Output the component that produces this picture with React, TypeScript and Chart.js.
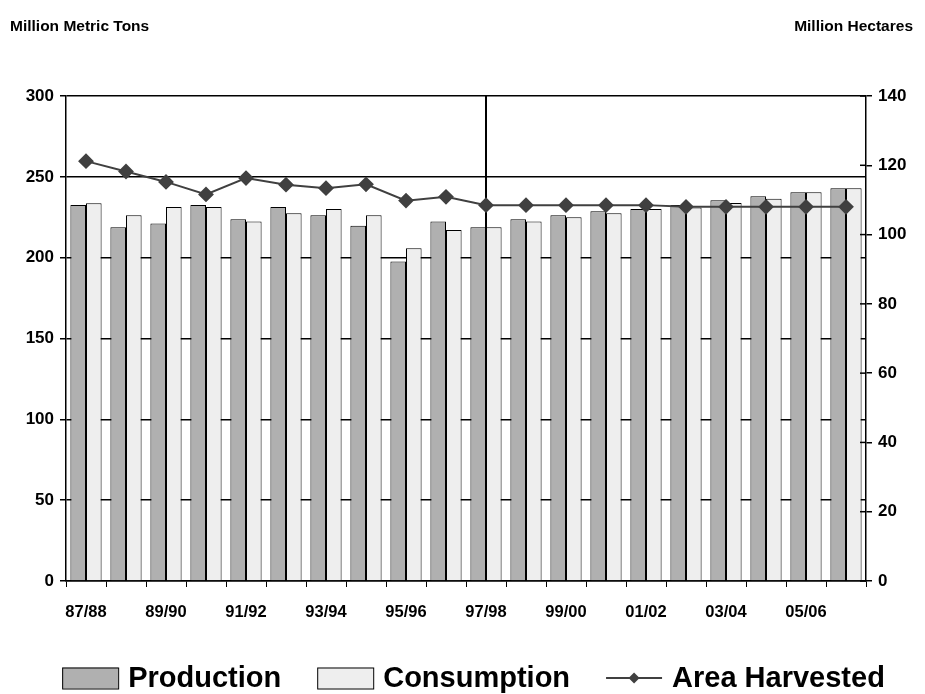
import React, { useEffect, useRef } from "react";
import { Chart, registerables } from "chart.js";

Chart.register(...registerables);

const categories = ["87/88","88/89","89/90","90/91","91/92","92/93","93/94","94/95","95/96","96/97","97/98","98/99","99/00","00/01","01/02","02/03","03/04","04/05","05/06","06/07"];
const production = [232.6,218.8,221.2,232.6,223.7,231.3,226.2,219.8,197.7,222.3,218.8,223.7,226.2,228.7,230.1,232.6,235.5,238,240.4,242.9];
const consumption = [233.6,226.2,231.3,231.3,222.3,227.4,230.1,226.2,205.8,217.1,218.8,222.3,225,227.4,230.1,231.1,233.8,236.5,240.4,242.9];
const areaHarvested = [121.2,118.2,115.2,111.6,116.3,114.4,113.4,114.5,109.8,110.9,108.5,108.5,108.5,108.5,108.5,108,108,108,108,108];
const leftTitle = "Million Metric Tons";
const rightTitle = "Million Hectares";
const markerCategory = "97/98";

const FONT = "'Liberation Sans', Arial, sans-serif";

const decorPlugin = {
  id: "decor",
  beforeDatasetsDraw(chart: any) {
    const { ctx, chartArea, scales } = chart;
    const x = scales.x.getPixelForValue(categories.indexOf(markerCategory));
    ctx.save();
    ctx.strokeStyle = "#000";
    ctx.lineWidth = 2;
    ctx.beginPath();
    ctx.moveTo(x, chartArea.top);
    ctx.lineTo(x, chartArea.bottom);
    ctx.stroke();
    ctx.restore();
  },
  afterDraw(chart: any) {
    const { ctx, chartArea, scales, width, height } = chart;
    ctx.save();
    ctx.strokeStyle = "#000";
    ctx.lineWidth = 1.5;
    scales.y1.ticks.forEach((t: any) => {
      const y = scales.y1.getPixelForValue(t.value);
      ctx.beginPath();
      ctx.moveTo(chartArea.right - 6, y);
      ctx.lineTo(chartArea.right, y);
      ctx.stroke();
    });
    ctx.fillStyle = "#000";
    ctx.font = `bold 15.5px ${FONT}`;
    ctx.textBaseline = "middle";
    ctx.textAlign = "left";
    ctx.fillText(leftTitle, 10, 27);
    ctx.textAlign = "right";
    ctx.fillText(rightTitle, width - 12, 27);

    const ds = chart.data.datasets;
    const items = [ds[1], ds[2], ds[0]];
    ctx.font = `bold 29px ${FONT}`;
    const boxW = 56, boxH = 21, gapIn = 10, gapOut = 36;
    const widths = items.map((d: any) => boxW + gapIn + ctx.measureText(d.label).width);
    const total = widths.reduce((a: number, b: number) => a + b, 0) + gapOut * (items.length - 1);
    let cx = (width - total) / 2 + 11;
    const cy = height - 16;
    items.forEach((d: any, i: number) => {
      if (d.type === "line") {
        ctx.strokeStyle = d.borderColor;
        ctx.lineWidth = 2;
        ctx.beginPath();
        ctx.moveTo(cx, cy);
        ctx.lineTo(cx + boxW, cy);
        ctx.stroke();
        ctx.fillStyle = d.pointBackgroundColor;
        const r = 5.5;
        const mx = cx + boxW / 2;
        ctx.beginPath();
        ctx.moveTo(mx, cy - r);
        ctx.lineTo(mx + r, cy);
        ctx.lineTo(mx, cy + r);
        ctx.lineTo(mx - r, cy);
        ctx.closePath();
        ctx.fill();
      } else {
        ctx.fillStyle = d.backgroundColor;
        ctx.fillRect(cx, cy - boxH / 2, boxW, boxH);
        ctx.strokeStyle = "#000";
        ctx.lineWidth = 1;
        ctx.strokeRect(cx + 0.5, cy - boxH / 2 + 0.5, boxW, boxH);
      }
      ctx.fillStyle = "#000";
      ctx.textAlign = "left";
      ctx.textBaseline = "middle";
      ctx.fillText(d.label, cx + boxW + gapIn, cy + 1);
      cx += widths[i] + gapOut;
    });
    ctx.restore();
  },
};

export default function App() {
  const ref = useRef<HTMLCanvasElement | null>(null);
  useEffect(() => {
    if (!ref.current) return;
    const chart = new Chart(ref.current, {
      type: "bar",
      data: {
        labels: categories,
        datasets: [
          {
            type: "line",
            label: "Area Harvested",
            data: areaHarvested,
            yAxisID: "y1",
            borderColor: "#404040",
            backgroundColor: "#404040",
            pointBackgroundColor: "#404040",
            pointBorderColor: "#404040",
            pointStyle: "rectRot",
            pointRadius: 6.5,
            borderWidth: 2,
            order: 0,
          } as any,
          {
            type: "bar",
            label: "Production",
            data: production,
            yAxisID: "y",
            backgroundColor: "#b0b0b0",
            borderColor: "#000",
            borderWidth: 1,
            categoryPercentage: 0.78,
            barPercentage: 1.0,
            order: 1,
          },
          {
            type: "bar",
            label: "Consumption",
            data: consumption,
            yAxisID: "y",
            backgroundColor: "#eeeeee",
            borderColor: "#000",
            borderWidth: 1,
            categoryPercentage: 0.78,
            barPercentage: 1.0,
            order: 2,
          },
        ],
      },
      options: {
        animation: false,
        responsive: true,
        maintainAspectRatio: false,
        layout: { padding: { top: 96, bottom: 73, left: 0, right: 0 } },
        plugins: {
          legend: { display: false },
          tooltip: { enabled: false },
          title: { display: false },
        },
        scales: {
          x: {
            offset: true,
            grid: { offset: true, drawOnChartArea: false, color: "#000", tickLength: 6, lineWidth: 1 },
            border: { display: true, color: "#000", width: 1.5 },
            ticks: {
              autoSkip: false,
              maxRotation: 0,
              color: "#000",
              padding: 16,
              font: { family: FONT, size: 16.5, weight: "bold" },
              callback: function (this: any, value: any, index: number) {
                return index % 2 === 0 ? categories[index] : "";
              },
            },
            afterFit(scale: any) { scale.height = 40; },
          },
          y: {
            position: "left",
            min: 0,
            max: 300,
            ticks: {
              stepSize: 50,
              color: "#000",
              padding: 6,
              font: { family: FONT, size: 17, weight: "bold" },
            },
            grid: { color: "#000", lineWidth: 1.5, tickLength: 6 },
            border: { display: true, color: "#000", width: 1.5 },
            afterFit(scale: any) { scale.width = 66; },
          },
          y1: {
            position: "right",
            min: 0,
            max: 140,
            ticks: {
              stepSize: 20,
              color: "#000",
              padding: 6,
              font: { family: FONT, size: 17, weight: "bold" },
            },
            grid: { drawOnChartArea: false, color: "#000", lineWidth: 1.5, tickLength: 6 },
            border: { display: true, color: "#000", width: 1.5 },
            afterFit(scale: any) { scale.width = 59; },
          },
        },
      },
      plugins: [decorPlugin],
    });
    return () => chart.destroy();
  }, []);
  return (
    <div style={{ position: "fixed", left: 0, top: 0, width: 925, height: 694, background: "#fff" }}>
      <canvas ref={ref} />
    </div>
  );
}
